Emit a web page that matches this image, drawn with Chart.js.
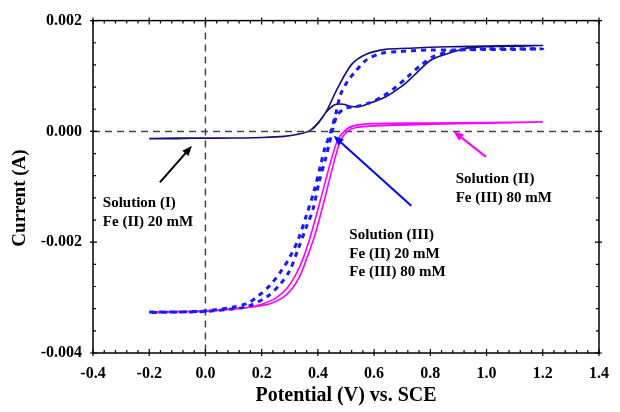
<!DOCTYPE html>
<html>
<head>
<meta charset="utf-8">
<script src="https://cdn.jsdelivr.net/npm/chart.js@4.4.1/dist/chart.umd.min.js"></script>
<style>
  html, body { margin: 0; padding: 0; background: #fff; }
  #wrap { width: 620px; height: 412px; }
</style>
</head>
<body>
<div id="wrap"><canvas id="cvChart" width="620" height="412"></canvas></div>
<script>
// Solution (I) Fe(II) 20 mM : forward scan then reverse scan
const sol1Pot = [-0.2, -0.1, 0.0, 0.1, 0.2, 0.28, 0.33, 0.37, 0.40, 0.43, 0.46, 0.49, 0.52, 0.55, 0.58, 0.64, 0.70, 0.74, 0.80, 0.86, 0.93, 1.01, 1.1, 1.2,
                 1.1, 1.0, 0.9, 0.8, 0.72, 0.64, 0.57, 0.52, 0.47, 0.43, 0.40, 0.37, 0.33, 0.28, 0.2, 0.1, 0.0, -0.1, -0.2];
const sol1Cur = [-0.00013, -0.00013, -0.00012, -0.00012, -0.00011, -0.00009, -0.00005, 0.00001, 0.00015, 0.00035, 0.00048, 0.00049, 0.00045, 0.00045, 0.0005, 0.00062, 0.00082, 0.001, 0.00128, 0.0014, 0.0015, 0.00153, 0.00154, 0.00155,
                 0.00155, 0.00154, 0.00153, 0.00152, 0.0015, 0.00148, 0.00139, 0.00121, 0.00078, 0.00036, 0.00014, 0.00001, -0.00005, -0.00009, -0.00011, -0.00012, -0.00012, -0.00012, -0.00013];

// Solution (II) Fe(III) 80 mM
const sol2Pot = [-0.2, -0.1, 0.0, 0.1, 0.15, 0.2, 0.25, 0.29, 0.32, 0.35, 0.38, 0.41, 0.445, 0.47, 0.495, 0.525, 0.6, 0.8, 1.0, 1.2,
                 1.0, 0.8, 0.6, 0.535, 0.505, 0.48, 0.455, 0.42, 0.39, 0.36, 0.335, 0.305, 0.275, 0.235, 0.18, 0.1, 0.0, -0.2];
const sol2Cur = [-0.00326, -0.00325, -0.00325, -0.00321, -0.00318, -0.00312, -0.00301, -0.00283, -0.0026, -0.00226, -0.00178, -0.00122, -0.00056, -0.00016, 0.00001, 0.0001, 0.00014, 0.00015, 0.00016, 0.00017,
                 0.00015, 0.00013, 0.0001, 0.00007, 0.0, -0.00017, -0.0006, -0.0013, -0.00186, -0.0023, -0.00262, -0.00286, -0.003, -0.0031, -0.00316, -0.0032, -0.00324, -0.00327];

// Solution (III) Fe(II) 20 mM + Fe(III) 80 mM
const sol3Pot = [-0.2, -0.1, 0.0, 0.1, 0.15, 0.22, 0.264, 0.299, 0.33, 0.358, 0.383, 0.404, 0.428, 0.44, 0.453, 0.47, 0.5, 0.53, 0.58, 0.63, 0.68, 0.72, 0.765, 0.81, 0.86, 0.9, 1.0, 1.1, 1.2,
                 1.1, 1.0, 0.9, 0.8, 0.683, 0.628, 0.575, 0.533, 0.505, 0.481, 0.463, 0.446, 0.425, 0.41, 0.385, 0.36, 0.33, 0.299, 0.264, 0.229, 0.19, 0.15, 0.1, 0.0, -0.1, -0.2];
const sol3Cur = [-0.00326, -0.00326, -0.00325, -0.0032, -0.00316, -0.00298, -0.00277, -0.00252, -0.00212, -0.00174, -0.0014, -0.00092, -0.00048, -0.00023, 0.00004, 0.0003, 0.00042, 0.00044, 0.00051, 0.00063, 0.00081, 0.00099, 0.00119, 0.00135, 0.00143, 0.00147, 0.00149, 0.00149, 0.00149,
                 0.00148, 0.00148, 0.00147, 0.00147, 0.00144, 0.00141, 0.0013, 0.00108, 0.0009, 0.00067, 0.00031, 0.0, -0.0003, -0.0006, -0.0011, -0.0015, -0.00195, -0.00228, -0.00256, -0.00278, -0.00296, -0.0031, -0.00317, -0.00324, -0.00326, -0.00327];

// callouts: text lines and arrows (data units)
const noteText = [
    ["Solution (I)", -0.365, -0.00129],
    ["Fe (II) 20 mM", -0.365, -0.00164],
    ["Solution (II)", 0.89, -0.00087],
    ["Fe (III) 80 mM", 0.89, -0.00121],
    ["Solution (III)", 0.512, -0.00188],
    ["Fe (II) 20 mM", 0.512, -0.00221],
    ["Fe (III) 80 mM", 0.512, -0.00254]
];
const noteArrows = [
    [-0.162, -0.00092, -0.048, -0.00026, "#000000"],
    [0.732, -0.00134, 0.456, -0.00008, "#0000ff"],
    [0.998, -0.00046, 0.883, 0.0, "#ff00ff"]
];

const serif = '"Liberation Serif", "Times New Roman", serif';

function toPoints(xs, ys) {
    return xs.map((x, i) => ({ x: x, y: ys[i] }));
}

function drawArrow(ctx, x1, y1, x2, y2, color) {
    const ang = Math.atan2(y2 - y1, x2 - x1);
    const len = 10, half = 4;
    ctx.strokeStyle = color;
    ctx.fillStyle = color;
    ctx.lineWidth = 2;
    ctx.beginPath();
    ctx.moveTo(x1, y1);
    ctx.lineTo(x2 - Math.cos(ang) * len * 0.8, y2 - Math.sin(ang) * len * 0.8);
    ctx.stroke();
    ctx.beginPath();
    ctx.moveTo(x2, y2);
    ctx.lineTo(x2 - Math.cos(ang) * len - Math.sin(ang) * half, y2 - Math.sin(ang) * len + Math.cos(ang) * half);
    ctx.lineTo(x2 - Math.cos(ang) * len + Math.sin(ang) * half, y2 - Math.sin(ang) * len - Math.cos(ang) * half);
    ctx.closePath();
    ctx.fill();
}

const framePlugin = {
    id: "frame",
    beforeDatasetsDraw(chart) {
        const { ctx, chartArea: a, scales: { x, y } } = chart;
        ctx.save();
        ctx.strokeStyle = "#444";
        ctx.lineWidth = 1.5;
        ctx.setLineDash([7, 5]);
        ctx.beginPath();
        const y0 = y.getPixelForValue(0);
        ctx.moveTo(a.left, y0);
        ctx.lineTo(a.right, y0);
        const x0 = x.getPixelForValue(0);
        ctx.moveTo(x0, a.top);
        ctx.lineTo(x0, a.bottom);
        ctx.stroke();
        ctx.restore();
    },
    afterDraw(chart) {
        const { ctx, chartArea: a, scales: { x, y } } = chart;
        ctx.save();
        // frame
        ctx.strokeStyle = "#000";
        ctx.lineWidth = 1.5;
        ctx.strokeRect(a.left, a.top, a.right - a.left, a.bottom - a.top);

        // ticks, pointing in (major ones cross the axis)
        ctx.lineWidth = 1.2;
        ctx.beginPath();
        for (let i = 0; i <= 45; i++) {
            const px = x.getPixelForValue(-0.4 + i * 0.04);
            const major = i % 5 === 0;
            const out = major ? 3 : 0, inn = major ? 4 : 3;
            ctx.moveTo(px, a.bottom + out); ctx.lineTo(px, a.bottom - inn);
            ctx.moveTo(px, a.top - out); ctx.lineTo(px, a.top + inn);
        }
        for (let i = 0; i <= 15; i++) {
            const py = y.getPixelForValue(-0.004 + i * 0.0004);
            const major = i % 5 === 0;
            const out = major ? 3 : 0, inn = major ? 4 : 3;
            ctx.moveTo(a.left - out, py); ctx.lineTo(a.left + inn, py);
            ctx.moveTo(a.right + out, py); ctx.lineTo(a.right - inn, py);
        }
        ctx.stroke();

        // callouts
        noteArrows.forEach(n => {
            drawArrow(ctx, x.getPixelForValue(n[0]), y.getPixelForValue(n[1]),
                x.getPixelForValue(n[2]), y.getPixelForValue(n[3]), n[4]);
        });
        ctx.fillStyle = "#000";
        ctx.font = "bold 15px " + serif;
        ctx.textBaseline = "middle";
        ctx.textAlign = "left";
        noteText.forEach(n => {
            ctx.fillText(n[0], x.getPixelForValue(n[1]), y.getPixelForValue(n[2]));
        });

        // axis titles
        ctx.font = "bold 20px " + serif;
        ctx.textAlign = "center";
        ctx.fillText("Potential (V) vs. SCE", (a.left + a.right) / 2, 396);
        ctx.font = "bold 19px " + serif;
        ctx.translate(20, 198);
        ctx.rotate(-Math.PI / 2);
        ctx.fillText("Current (A)", 0, 0);
        ctx.restore();
    }
};

const cvChart = new Chart(document.getElementById("cvChart"), {
    type: "scatter",
    data: {
        datasets: [
            {
                label: "Solution (III)",
                data: toPoints(sol3Pot, sol3Cur),
                borderColor: "#1a1aff",
                borderWidth: 3,
                borderDash: [5, 5],
                showLine: true,
                pointRadius: 0,
                tension: 0.3
            },
            {
                label: "Solution (I)",
                data: toPoints(sol1Pot, sol1Cur),
                borderColor: "#10107c",
                borderWidth: 1.6,
                showLine: true,
                pointRadius: 0,
                tension: 0.3
            },
            {
                label: "Solution (II)",
                data: toPoints(sol2Pot, sol2Cur),
                borderColor: "#ff00ff",
                borderWidth: 1.6,
                showLine: true,
                pointRadius: 0,
                tension: 0.3
            }
        ]
    },
    options: {
        responsive: false,
        animation: false,
        devicePixelRatio: 1,
        layout: { padding: { top: 19, right: 12, left: 0, bottom: 0 } },
        plugins: {
            legend: { display: false },
            tooltip: { enabled: false }
        },
        scales: {
            x: {
                type: "linear",
                min: -0.4,
                max: 1.4,
                grid: { display: false, drawTicks: false },
                border: { display: false },
                ticks: {
                    stepSize: 0.2,
                    padding: 11,
                    color: "#000",
                    font: { family: serif, size: 16, weight: "bold" },
                    callback: v => (Math.abs(v) < 1e-9 ? 0 : v).toFixed(1)
                },
                afterFit: scale => { scale.height = 59; }
            },
            y: {
                type: "linear",
                min: -0.004,
                max: 0.002,
                grid: { display: false, drawTicks: false },
                border: { display: false },
                ticks: {
                    stepSize: 0.002,
                    padding: 11,
                    color: "#000",
                    font: { family: serif, size: 16, weight: "bold" },
                    callback: v => (Math.abs(v) < 1e-9 ? 0 : v).toFixed(3)
                },
                afterFit: scale => { scale.width = 93; }
            }
        }
    },
    plugins: [framePlugin]
});
</script>
</body>
</html>
